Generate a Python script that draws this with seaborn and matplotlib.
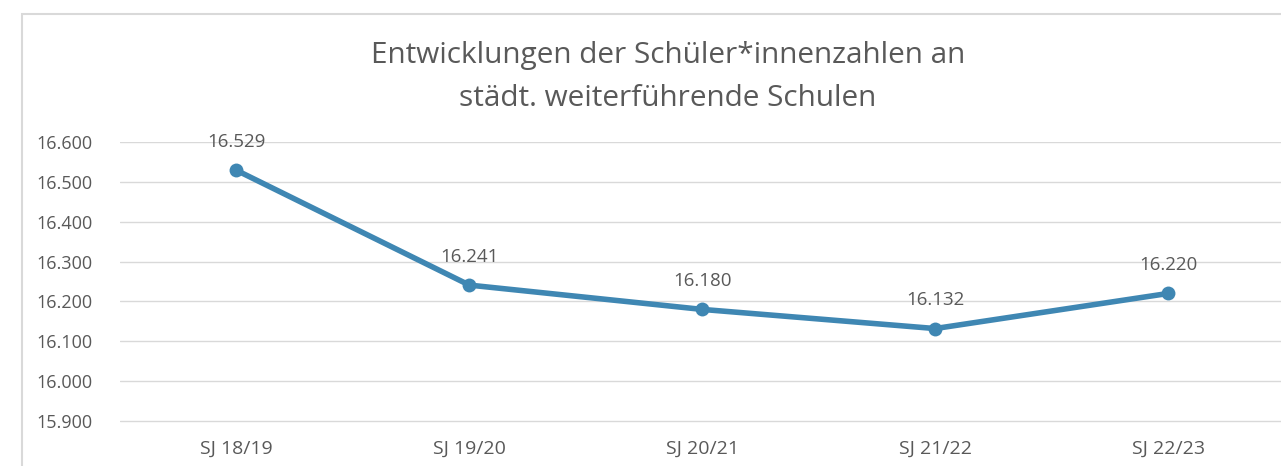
import matplotlib
matplotlib.use('Agg')
import matplotlib.pyplot as plt
import seaborn as sns
import pandas as pd
from matplotlib.patches import Rectangle

# values
schuljahre = ['SJ 18/19', 'SJ 19/20', 'SJ 20/21', 'SJ 21/22', 'SJ 22/23']
schueler = [16529, 16241, 16180, 16132, 16220]
y_ticks = [15900, 16000, 16100, 16200, 16300, 16400, 16500, 16600]

df = pd.DataFrame({'Schuljahr': schuljahre, 'Anzahl': schueler})

sns.set_theme(style='white')
plt.rcParams['font.family'] = ['Open Sans', 'DejaVu Sans']

text_grey = '#595959'
line_blue = '#3f87b3'

def de_format(v):
    # German thousands separator
    return f'{v:,.0f}'.replace(',', '.')

fig = plt.figure(figsize=(12.81, 4.66), dpi=100)

# chart frame (runs off the right and bottom edge)
fig.patches.append(Rectangle((22 / 1281, -0.1), 1.2, (466 - 14) / 466 + 0.1,
                             transform=fig.transFigure, fill=False,
                             edgecolor='#d9d9d9', linewidth=1.5))

ax = fig.add_axes([120 / 1281, 37 / 466, (1281 - 120) / 1281, 287 / 466])
sns.lineplot(data=df, x='Schuljahr', y='Anzahl', ax=ax, color=line_blue,
             linewidth=4, marker='o', markersize=10, markeredgewidth=0,
             sort=False)

for i, v in enumerate(schueler):
    ax.annotate(de_format(v), (i, v), xytext=(0, 14), textcoords='offset points',
                ha='center', va='bottom', fontsize=13.5, color=text_grey)

ax.set_xlim(-0.5, 4.485)
ax.set_ylim(15880, 16600)
ax.set_yticks(y_ticks)
ax.set_yticklabels([de_format(v) for v in y_ticks])
ax.grid(axis='y', color='#d9d9d9', linewidth=1)
ax.set_axisbelow(True)
for s in ax.spines.values():
    s.set_visible(False)
ax.tick_params(axis='y', length=0, labelsize=13, labelcolor=text_grey, pad=20)
ax.tick_params(axis='x', length=0, labelsize=14, labelcolor=text_grey, pad=8)
ax.set_xlabel('')
ax.set_ylabel('')

fig.text(668 / 1281, 1 - 56 / 466, 'Entwicklungen der Schüler*innenzahlen an',
         ha='center', va='center', fontsize=21.4, color=text_grey)
fig.text(668 / 1281, 1 - 98 / 466, 'städt. weiterführende Schulen',
         ha='center', va='center', fontsize=21.4, color=text_grey)

fig.savefig('out.png', dpi=100)
